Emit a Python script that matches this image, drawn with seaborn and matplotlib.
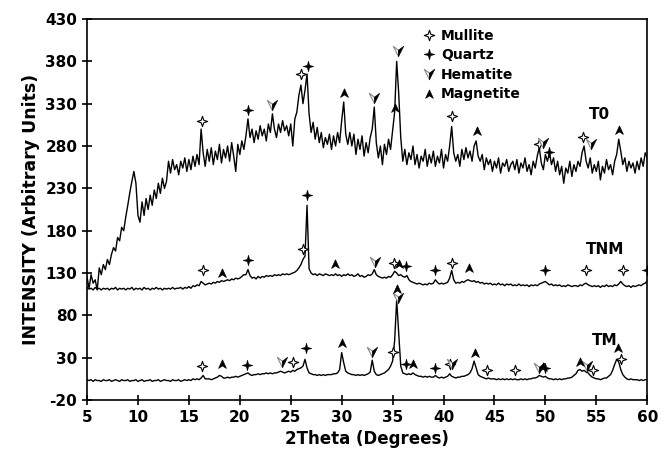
import numpy as np
import pandas as pd
import seaborn as sns
import matplotlib.pyplot as plt
from matplotlib.path import Path
from matplotlib.lines import Line2D

# 2theta scan grid, 0.2 degree step
two_theta = np.linspace(5, 60, 276)

# T0 pattern
t0 = [
    125, 112, 128, 118, 122, 110, 136, 128, 140, 134,
    146, 140, 152, 160, 156, 172, 168, 184, 180, 196,
    210, 225, 238, 250, 236, 198, 190, 214, 198, 218,
    205, 222, 210, 228, 218, 236, 224, 242, 230, 238,
    262, 248, 264, 252, 258, 246, 262, 254, 266, 250,
    264, 252, 268, 256, 270, 258, 300, 272, 256, 276,
    262, 278, 258, 274, 264, 282, 260, 276, 266, 280,
    262, 284, 268, 250, 282, 270, 286, 276, 292, 312,
    290, 300, 284, 298, 288, 304, 292, 300, 286, 306,
    296, 318, 300, 290, 306, 296, 310, 298, 304, 292,
    306, 280, 312, 320, 340, 352, 330, 346, 365, 318,
    296, 308, 288, 302, 284, 296, 278, 290, 282, 294,
    276, 292, 280, 296, 284, 310, 332, 294, 282, 296,
    280, 294, 270, 288, 276, 292, 268, 284, 272, 290,
    300, 326, 284, 266, 280, 258, 282, 270, 288, 276,
    298, 320, 380, 342, 290, 262, 276, 258, 272, 264,
    280, 258, 270, 254, 268, 262, 276, 256, 270, 260,
    274, 256, 268, 260, 276, 254, 270, 262, 280, 303,
    272, 262, 270, 256, 276, 264, 278, 266, 274, 262,
    280, 286, 268, 262, 270, 252, 266, 258, 264, 250,
    262, 254, 266, 248, 260, 256, 264, 250, 258, 262,
    252, 264, 248, 260, 254, 266, 250, 258, 246, 262,
    254, 268, 278, 260, 252, 270, 262, 272, 258, 266,
    250, 262, 246, 256, 236, 254, 248, 262, 244, 258,
    250, 262, 256, 272, 280, 262, 254, 266, 248, 258,
    250, 262, 240, 256, 248, 264, 252, 258, 246, 262,
    270, 288, 274, 258, 266, 250, 262, 254, 260, 248,
    262, 252, 266, 256, 272, 266,
]

# TNM pattern
tnm = [
    113, 111, 112, 110, 113, 111, 112, 110, 112, 111,
    112, 110, 112, 111, 113, 110, 112, 111, 112, 110,
    112, 111, 113, 110, 112, 111, 112, 110, 113, 111,
    112, 110, 112, 111, 113, 111, 112, 110, 112, 111,
    112, 111, 113, 111, 112, 112, 113, 111, 113, 112,
    114, 112, 115, 114, 116, 115, 120, 118, 116, 117,
    118, 117, 119, 118, 120, 119, 121, 120, 121, 122,
    121, 123, 122, 124, 123, 124, 126, 128, 128, 134,
    127, 124, 125, 123, 126, 124, 126, 125, 127, 126,
    127, 126, 128, 127, 128, 127, 129, 128, 129, 128,
    129, 130, 131, 133, 136, 140, 146, 150, 210, 135,
    130, 128, 129, 127, 129, 128, 127, 129, 128, 127,
    128, 127, 129, 127, 128, 126, 128, 127, 129, 127,
    128, 126, 127, 129, 126, 127, 125, 126, 128, 127,
    129, 134, 128, 126, 125, 124, 125, 124, 126, 125,
    128, 132, 130, 127, 128, 126, 125, 127, 122, 120,
    119, 118, 117, 118, 117, 116, 117, 116, 118, 117,
    118, 122, 119, 117, 118, 117, 118, 119, 124, 133,
    122, 118, 119, 118, 120, 119, 121, 122, 121, 120,
    121, 119, 120, 118, 119, 117, 118, 117, 118, 116,
    117, 116, 118, 116, 117, 115, 117, 116, 117, 115,
    116, 115, 117, 115, 116, 115, 116, 114, 116, 115,
    116, 115, 117, 118, 119, 120, 118, 116, 117, 115,
    116, 115, 116, 114, 115, 114, 116, 115, 114, 115,
    115, 114, 116, 115, 117, 118, 116, 115, 114, 115,
    114, 115, 113, 115, 114, 116, 114, 115, 114, 116,
    115, 117, 120, 117, 115, 114, 115, 113, 115, 114,
    115, 116, 115, 117, 118, 121,
]

# TM pattern
tm = [
    4, 3, 4, 2, 4, 3, 3, 2, 4, 3,
    3, 4, 2, 3, 4, 3, 2, 4, 3, 3,
    4, 2, 3, 3, 4, 2, 3, 4, 2, 3,
    3, 4, 2, 3, 3, 4, 2, 3, 4, 3,
    3, 2, 4, 3, 3, 4, 2, 3, 4, 3,
    4, 3, 5, 4, 5, 4, 6, 9, 5, 5,
    5, 4, 5, 6, 7, 9, 8, 6, 6, 7,
    6, 7, 7, 8, 7, 8, 9, 10, 11, 12,
    10, 9, 10, 10, 11, 10, 11, 11, 12, 11,
    12, 11, 12, 12, 13, 14, 13, 12, 13, 14,
    13, 15, 14, 16, 17, 18, 20, 28, 18, 12,
    11, 10, 10, 9, 10, 9, 10, 9, 10, 10,
    10, 11, 11, 12, 16, 36, 24, 14, 12, 11,
    10, 10, 9, 10, 9, 10, 9, 10, 11, 13,
    27, 14, 10, 9, 10, 11, 12, 14, 16, 20,
    26, 50, 98, 60, 20, 12, 11, 10, 11, 10,
    12, 10, 9, 8, 8, 7, 8, 7, 8, 7,
    7, 9, 7, 6, 7, 6, 7, 8, 11, 8,
    7, 6, 7, 7, 8, 8, 9, 10, 12, 17,
    26, 18, 10, 8, 7, 6, 5, 6, 5, 5,
    5, 4, 5, 4, 5, 4, 5, 4, 5, 4,
    5, 4, 4, 5, 4, 5, 4, 5, 5, 6,
    6, 7, 9, 8, 7, 8, 6, 5, 5, 4,
    5, 4, 5, 4, 5, 5, 6, 6, 7, 9,
    11, 15, 16, 14, 15, 13, 12, 9, 7, 6,
    5, 5, 4, 5, 6, 6, 8, 10, 15, 22,
    28, 25, 16, 10, 7, 5, 4, 5, 4, 4,
    4, 3, 4, 3, 4, 4,
]

# phase markers (2theta, intensity) for all three patterns
mullite_x = [16.3, 26.0, 40.8, 49.4, 53.7,
             16.4, 26.2, 35.1, 40.8, 54.0, 57.6,
             16.3, 25.2, 35.0, 40.6, 44.3, 47.0, 54.7, 57.4]
mullite_y = [310, 365, 315, 282, 291,
             134, 158, 142, 142, 133, 133,
             20, 25, 37, 23, 15, 15, 15, 28]
quartz_x = [20.8, 26.7, 50.4,
            20.8, 26.6, 36.3, 39.2, 50.0, 60.0,
            20.7, 26.5, 36.3, 39.2, 50.0]
quartz_y = [322, 375, 273,
            145, 222, 138, 134, 134, 134,
            21, 42, 22, 18, 18]
hematite_x = [23.2, 33.2, 35.5, 49.8, 54.5,
              33.3,
              24.1, 33.0, 35.5, 40.8, 49.4, 54.1]
hematite_y = [328, 337, 392, 283, 282,
              143,
              25, 37, 100, 23, 18, 20]
magnetite_x = [30.2, 35.2, 43.3, 57.2,
               18.3, 29.3, 35.6, 42.5,
               18.3, 30.0, 35.4, 37.0, 43.1, 49.8, 53.4, 57.1]
magnetite_y = [343, 325, 298, 299,
               130, 141, 141, 136,
               22, 47, 111, 23, 36, 19, 25, 42]

df = pd.DataFrame({
    'two_theta': np.concatenate([two_theta] * 3),
    'intensity': t0 + tnm + tm,
    'pattern': ['T0'] * 276 + ['TNM'] * 276 + ['TM'] * 276,
})

# marker shapes
star_open = Path([(0, 1), (0.25, 0.25), (1, 0), (0.25, -0.25), (0, -1),
                  (-0.25, -0.25), (-1, 0), (-0.25, 0.25), (0, 1)], closed=True)
star_fill = Path([(0, 1), (0.2, 0.2), (1, 0), (0.2, -0.2), (0, -1),
                  (-0.2, -0.2), (-1, 0), (-0.2, 0.2), (0, 1)], closed=True)
hem_left = Path([(-1, 1), (0, -1), (0, 0.25), (-1, 1)], closed=True)
hem_right = Path([(0, 0.25), (0, -1), (1, 1), (0, 0.25)], closed=True)
magn = Path([(0, 1), (0.85, -0.85), (0, -0.3), (-0.85, -0.85), (0, 1)], closed=True)

sns.set_style('ticks')
plt.rcParams['font.family'] = ['DejaVu Sans']
plt.rcParams['font.weight'] = 'bold'
plt.rcParams['axes.edgecolor'] = 'black'
plt.rcParams['text.color'] = 'black'
plt.rcParams['axes.labelcolor'] = 'black'
plt.rcParams['axes.unicode_minus'] = False

fig = plt.figure(figsize=(6.71, 4.58), dpi=100)
ax = fig.add_axes([0.1297, 0.1266, 0.8349, 0.8319])

sns.lineplot(data=df, x='two_theta', y='intensity', hue='pattern', units='pattern',
             estimator=None, palette={'T0': 'black', 'TNM': 'black', 'TM': 'black'},
             linewidth=1.0, legend=False, ax=ax, sort=False)

ms = 55
sns.scatterplot(x=mullite_x, y=mullite_y, marker=star_open, s=ms, color='white',
                edgecolor='black', linewidth=0.8, ax=ax, zorder=5)
sns.scatterplot(x=quartz_x, y=quartz_y, marker=star_fill, s=ms, color='black',
                edgecolor='black', linewidth=0.5, ax=ax, zorder=5)
sns.scatterplot(x=hematite_x, y=hematite_y, marker=hem_left, s=ms, color='white',
                edgecolor='#888888', linewidth=0.8, ax=ax, zorder=5)
sns.scatterplot(x=hematite_x, y=hematite_y, marker=hem_right, s=ms, color='black',
                edgecolor='black', linewidth=0.5, ax=ax, zorder=5)
sns.scatterplot(x=magnetite_x, y=magnetite_y, marker=magn, s=ms * 0.8, color='black',
                edgecolor='black', linewidth=0.5, ax=ax, zorder=5)

# pattern labels
ax.text(54.3, 312, 'T0', fontsize=11, fontweight='bold')
ax.text(54.0, 153, 'TNM', fontsize=11, fontweight='bold')
ax.text(54.6, 45, 'TM', fontsize=11, fontweight='bold')

# legend
h_mul = Line2D([], [], ls='none', marker=star_open, ms=7.5, mfc='white', mec='black', mew=0.8)
h_qtz = Line2D([], [], ls='none', marker=star_fill, ms=7.5, mfc='black', mec='black', mew=0.5)
h_hl = Line2D([], [], ls='none', marker=hem_left, ms=7.5, mfc='white', mec='#888888', mew=0.8)
h_hr = Line2D([], [], ls='none', marker=hem_right, ms=7.5, mfc='black', mec='black', mew=0.5)
h_mag = Line2D([], [], ls='none', marker=magn, ms=6.5, mfc='black', mec='black', mew=0.5)
ax.legend([h_mul, h_qtz, (h_hl, h_hr), h_mag], ['Mullite', 'Quartz', 'Hematite', 'Magnetite'],
          loc='upper left', bbox_to_anchor=(0.58, 1.0), frameon=False,
          prop={'weight': 'bold', 'size': 10}, handlelength=1.0, handletextpad=0.4,
          labelspacing=0.4, borderpad=0.2)

ax.set_xlim(5, 60)
ax.set_ylim(-20, 430)
ax.set_xticks(range(5, 61, 5))
ax.set_yticks(range(-20, 431, 50))
ax.set_xlabel('2Theta (Degrees)', fontsize=12, fontweight='bold', labelpad=4)
ax.set_ylabel('INTENSITY (Arbitrary Units)', fontsize=12.5, fontweight='bold', labelpad=4)
ax.tick_params(direction='inout', length=7, width=1.2, labelsize=11, colors='black')
for lab in ax.get_xticklabels() + ax.get_yticklabels():
    lab.set_fontweight('bold')
for sp in ax.spines.values():
    sp.set_visible(True)
    sp.set_linewidth(1.2)

fig.savefig('out.png', dpi=100)
